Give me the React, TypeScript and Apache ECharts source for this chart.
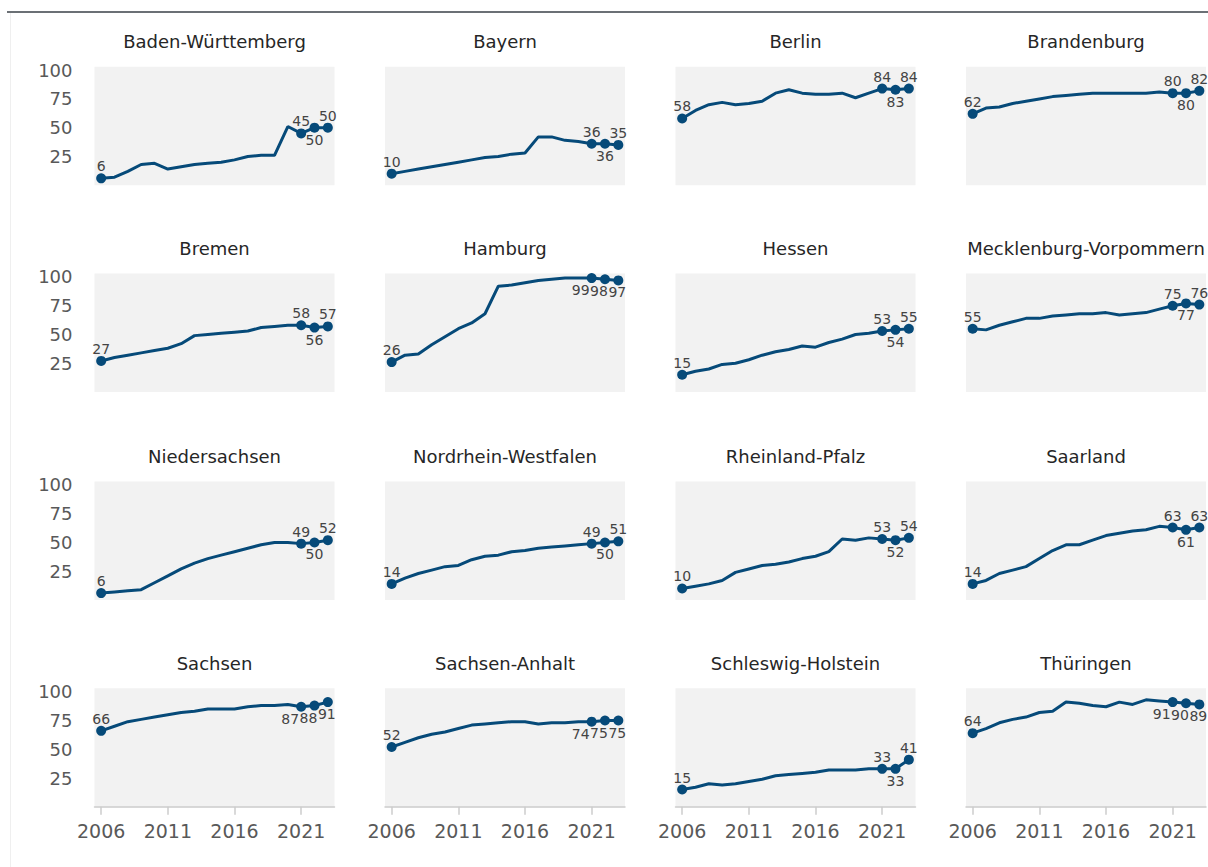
import React, { useEffect, useRef } from "react";
import * as echarts from "echarts";

const years = ["2006", "2007", "2008", "2009", "2010", "2011", "2012", "2013", "2014", "2015", "2016", "2017", "2018", "2019", "2020", "2021", "2022", "2023"];
const xTickLabels = ["2006", "2011", "2016", "2021"];
const yTickLabels = [25, 50, 75, 100];
const labelledYears = ["2006", "2021", "2022", "2023"];

const states = [
  "Baden-Württemberg", "Bayern", "Berlin", "Brandenburg",
  "Bremen", "Hamburg", "Hessen", "Mecklenburg-Vorpommern",
  "Niedersachsen", "Nordrhein-Westfalen", "Rheinland-Pfalz", "Saarland",
  "Sachsen", "Sachsen-Anhalt", "Schleswig-Holstein", "Thüringen",
];

const badenWuerttemberg = [6, 7, 12, 18, 19, 14, 16, 18, 19, 20, 22, 25, 26, 26, 51, 45, 50, 50];
const bayern = [10, 12, 14, 16, 18, 20, 22, 24, 25, 27, 28, 42, 42, 39, 38, 36, 36, 35];
const berlin = [58, 65, 70, 72, 70, 71, 73, 80, 83, 80, 79, 79, 80, 76, 80, 84, 83, 84];
const brandenburg = [62, 67, 68, 71, 73, 75, 77, 78, 79, 80, 80, 80, 80, 80, 81, 80, 80, 82];
const bremen = [27, 30, 32, 34, 36, 38, 42, 49, 50, 51, 52, 53, 56, 57, 58, 58, 56, 57];
const hamburg = [26, 32, 33, 41, 48, 55, 60, 68, 92, 93, 95, 97, 98, 99, 99, 99, 98, 97];
const hessen = [15, 18, 20, 24, 25, 28, 32, 35, 37, 40, 39, 43, 46, 50, 51, 53, 54, 55];
const mecklenburgVorpommern = [55, 54, 58, 61, 64, 64, 66, 67, 68, 68, 69, 67, 68, 69, 72, 75, 77, 76];
const niedersachsen = [6, 7, 8, 9, 15, 21, 27, 32, 36, 39, 42, 45, 48, 50, 50, 49, 50, 52];
const nordrheinWestfalen = [14, 19, 23, 26, 29, 30, 35, 38, 39, 42, 43, 45, 46, 47, 48, 49, 50, 51];
const rheinlandPfalz = [10, 12, 14, 17, 24, 27, 30, 31, 33, 36, 38, 42, 53, 52, 54, 53, 52, 54];
const saarland = [14, 17, 23, 26, 29, 36, 43, 48, 48, 52, 56, 58, 60, 61, 64, 63, 61, 63];
const sachsen = [66, 70, 74, 76, 78, 80, 82, 83, 85, 85, 85, 87, 88, 88, 89, 87, 88, 91];
const sachsenAnhalt = [52, 56, 60, 63, 65, 68, 71, 72, 73, 74, 74, 72, 73, 73, 74, 74, 75, 75];
const schleswigHolstein = [15, 17, 20, 19, 20, 22, 24, 27, 28, 29, 30, 32, 32, 32, 33, 33, 33, 41];
const thueringen = [64, 68, 73, 76, 78, 82, 83, 91, 90, 88, 87, 91, 89, 93, 92, 91, 90, 89];

const stateValues = [
  badenWuerttemberg, bayern, berlin, brandenburg,
  bremen, hamburg, hessen, mecklenburgVorpommern,
  niedersachsen, nordrheinWestfalen, rheinlandPfalz, saarland,
  sachsen, sachsenAnhalt, schleswigHolstein, thueringen,
];

const labelsAllBelow = ["Hamburg", "Sachsen", "Sachsen-Anhalt", "Thüringen"];

const FONT = "DejaVu Sans";
const LINE_COLOR = "#064a79";

export default function App() {
  const ref = useRef<HTMLDivElement>(null);

  useEffect(() => {
    if (!ref.current) return;
    const chart = echarts.init(ref.current, undefined, { renderer: "svg" });

    const colLeft = [94.5, 385, 675.5, 966];
    const rowTop = [66.7, 273.5, 481.5, 688.3];
    const gw = 240;
    const gh = 118.5;
    // horizontal nudges for the crowded "all below" labels (2021, 2022, 2023)
    const belowNudge = [-11, -6, -1];

    const grids: any[] = [];
    const xAxes: any[] = [];
    const yAxes: any[] = [];
    const series: any[] = [];
    const graphics: any[] = [
      { type: "rect", shape: { x: 7, y: 11, width: 1201, height: 2 }, style: { fill: "#6b7075" }, silent: true },
      { type: "line", shape: { x1: 10.5, y1: 13, x2: 10.5, y2: 867 }, style: { stroke: "#efefef", lineWidth: 1 }, silent: true },
    ];

    states.forEach((name, i) => {
      const r = Math.floor(i / 4);
      const c = i % 4;
      const left = colLeft[c];
      const top = rowTop[r];
      grids.push({
        left, top, width: gw, height: gh,
        show: true, backgroundColor: "#f2f2f2", borderWidth: 0,
      });
      const lastRow = r === 3;
      xAxes.push({
        type: "category",
        gridIndex: i,
        data: years,
        boundaryGap: true,
        show: lastRow,
        axisLine: { show: lastRow, lineStyle: { color: "#cccccc", width: 1.5 } },
        axisTick: {
          show: lastRow, alignWithLabel: true, length: 8,
          lineStyle: { color: "#cccccc", width: 1.5 },
          interval: (idx: number, val: string) => xTickLabels.includes(val),
        },
        axisLabel: {
          show: lastRow, margin: 15, fontSize: 19, fontFamily: FONT, color: "#595959",
          interval: (idx: number, val: string) => xTickLabels.includes(val),
        },
        splitLine: { show: false },
      });
      yAxes.push({
        type: "value",
        gridIndex: i,
        min: 0,
        max: 103,
        interval: 25,
        axisLine: { show: false },
        axisTick: { show: false },
        splitLine: { show: false },
        axisLabel: {
          show: c === 0,
          margin: 22,
          fontSize: 18,
          fontFamily: FONT,
          color: "#595959",
          formatter: (v: number) => (yTickLabels.includes(v) ? String(v) : ""),
        },
      });
      const allBelow = labelsAllBelow.includes(name);
      const values = stateValues[i];
      series.push({
        type: "line",
        name,
        xAxisIndex: i,
        yAxisIndex: i,
        showSymbol: true,
        showAllSymbol: true,
        symbol: "circle",
        symbolSize: 10,
        itemStyle: { color: LINE_COLOR },
        lineStyle: { color: LINE_COLOR, width: 3 },
        label: { show: false, fontSize: 14, fontFamily: FONT, color: "#444444", distance: 0 },
        emphasis: { disabled: true },
        data: values.map((v, k) => {
          const li = labelledYears.indexOf(years[k]);
          if (li < 0) return { value: v, symbol: "none" };
          const below = li > 0 && (allBelow || li === 2);
          const lbl: any = { show: true, position: below ? "bottom" : "top" };
          if (allBelow && li > 0) lbl.offset = [belowNudge[li - 1], 0];
          return { value: v, symbol: "circle", label: lbl };
        }),
      });
      graphics.push({
        type: "text",
        x: left + gw / 2,
        y: top - 25,
        silent: true,
        style: {
          text: name,
          align: "center",
          verticalAlign: "middle",
          fontSize: 18,
          fontFamily: FONT,
          fill: "#262626",
        },
      });
    });

    chart.setOption({
      animation: false,
      backgroundColor: "#ffffff",
      grid: grids,
      xAxis: xAxes,
      yAxis: yAxes,
      series,
      graphic: graphics,
    });

    return () => chart.dispose();
  }, []);

  return (
    <div
      ref={ref}
      style={{ position: "fixed", left: 0, top: 0, width: 1208, height: 867 }}
    />
  );
}
